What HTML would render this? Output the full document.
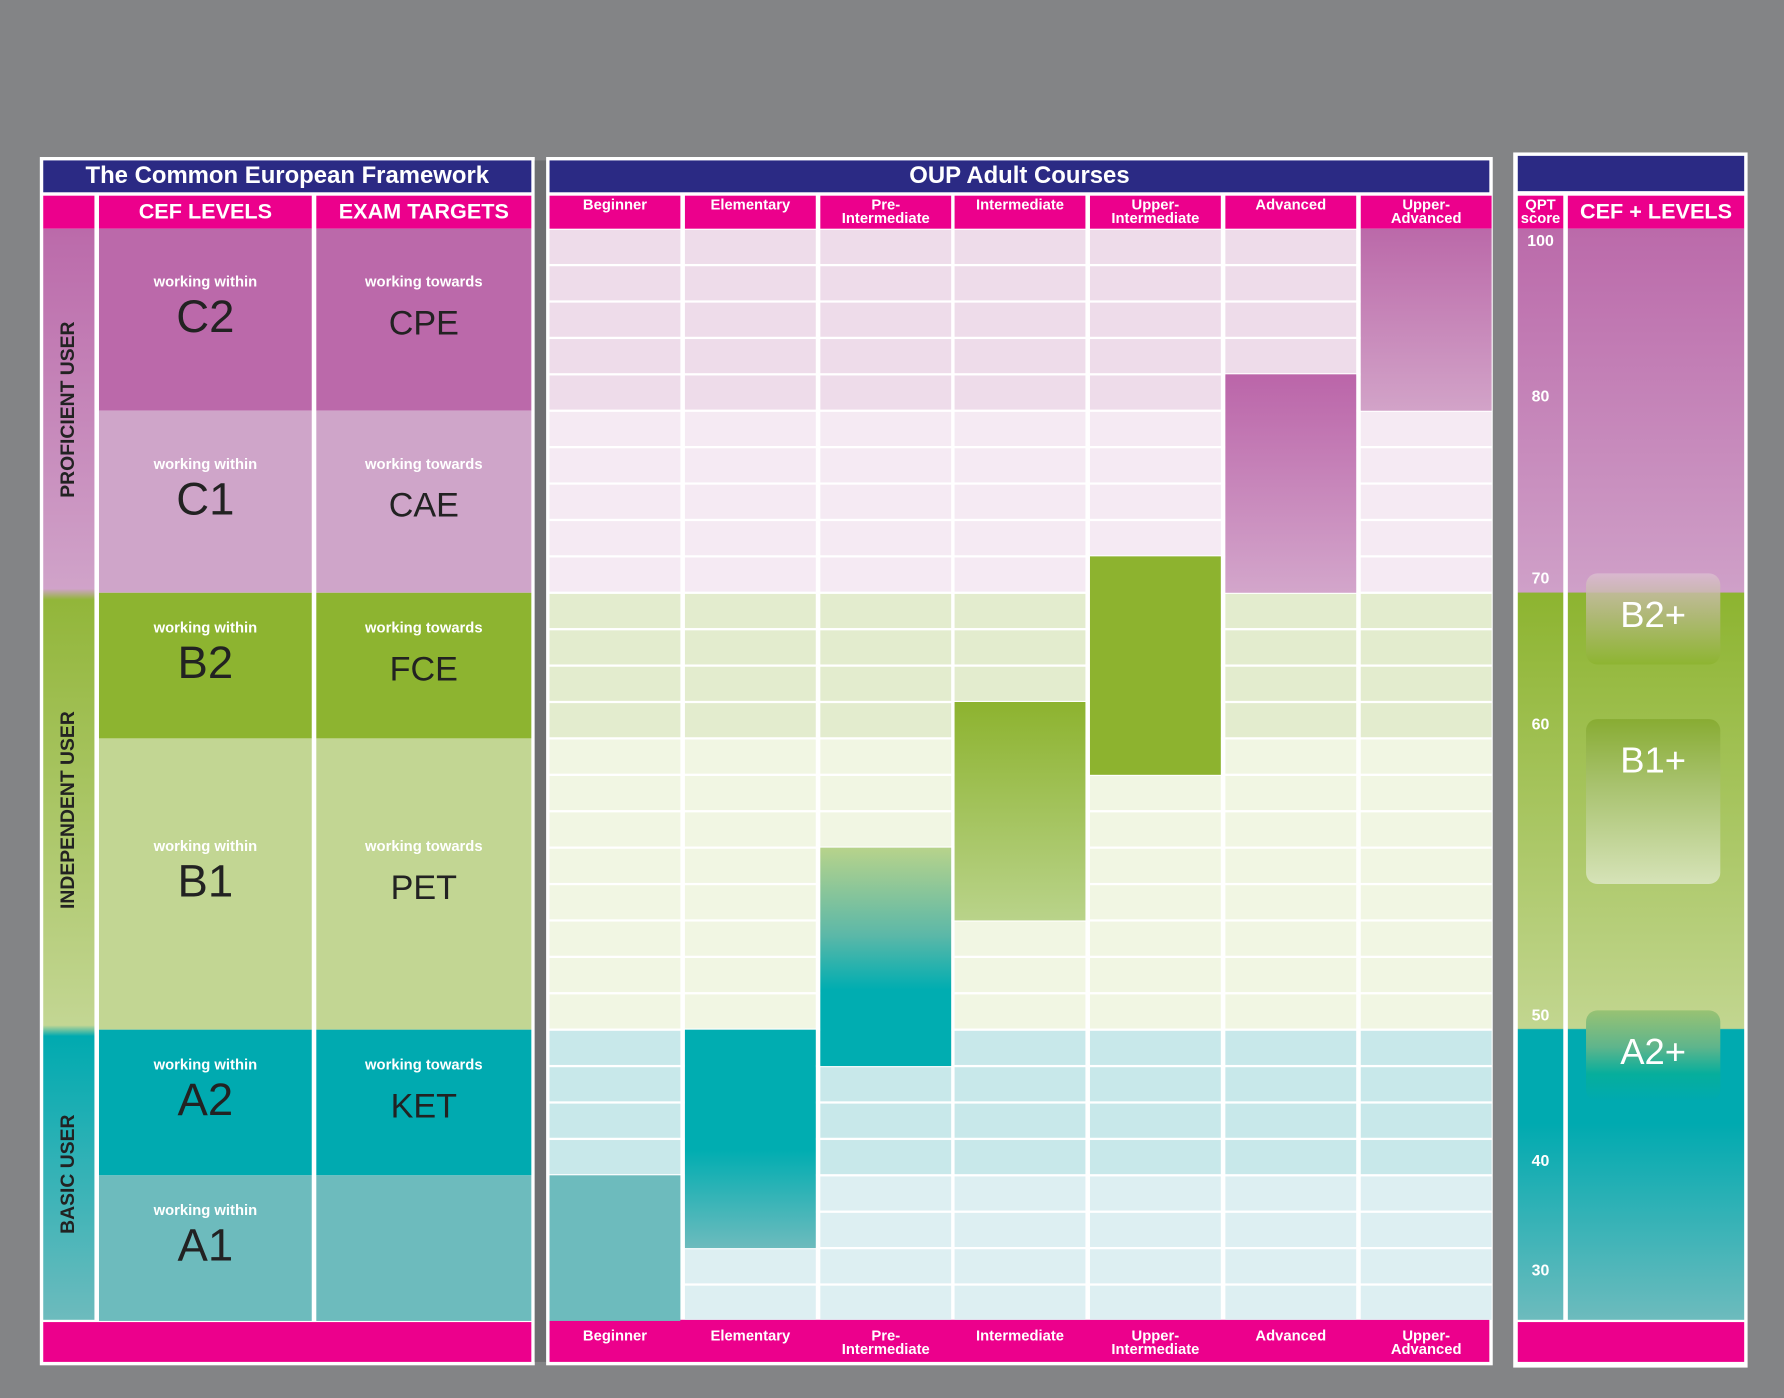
<!DOCTYPE html>
<html><head><meta charset="utf-8">
<style>
html,body{margin:0;padding:0;background:#838486;width:1784px;height:1398px;overflow:hidden}
#stage{position:absolute;left:0;top:0;width:1568px;height:1229px;transform:scale(1.13776);transform-origin:0 0;font-family:"Liberation Sans Narrow","Liberation Sans",sans-serif}
.a{position:absolute;box-sizing:border-box}
.navy{background:#2b2a84;color:#fff;font-weight:bold;text-align:center;font-size:21px;line-height:28px}
.pink{background:#ec008c;color:#fff;font-weight:bold;text-align:center}
.hd{font-size:19px;line-height:30px}
.ch{font-size:13px;line-height:12px;padding-top:2px}
.cell{text-align:center;color:#fff}
.cell .w{font-size:13px;font-weight:bold;line-height:16px}
.cell .big{font-size:40px;color:#222;font-family:"Liberation Sans",sans-serif;line-height:46px}
.cell .mid{font-size:30px;color:#222;font-family:"Liberation Sans",sans-serif;line-height:46px;margin-top:6px}
.vt{position:absolute;transform:rotate(-90deg);transform-origin:center;font-weight:bold;font-size:17px;color:#222;white-space:nowrap;font-family:"Liberation Sans",sans-serif}
.sc{position:absolute;left:1334px;width:40px;text-align:center;color:#fff;font-weight:bold;font-size:14px;font-family:"Liberation Sans",sans-serif}
.badge{position:absolute;left:1394px;width:118px;border-radius:10px;color:#fff;text-align:center;font-size:32px;font-family:"Liberation Sans",sans-serif}
</style></head><body>
<div id="stage">
<div class="a" style="left:35px;top:138px;width:435px;height:1062px;background:#fff"></div>
<div class="a navy" style="left:38px;top:141px;width:429px;height:28px">The Common European Framework</div>
<div class="a pink" style="left:38px;top:172px;width:45px;height:29px"></div>
<div class="a pink hd" style="left:87px;top:172px;width:187px;height:29px">CEF LEVELS</div>
<div class="a pink hd" style="left:278px;top:172px;width:189px;height:29px">EXAM TARGETS</div>
<div class="a" style="left:38px;top:201px;width:45px;height:959px;background:linear-gradient(#bb6aaa 0%,#d0a3c9 33%,#92b63a 34%,#c3d693 73%,#00aab0 74%,#6dbbbd 100%)"></div>
<div class="vt" style="left:-20px;top:350px;width:160px;text-align:center">PROFICIENT USER</div>
<div class="vt" style="left:-30px;top:702px;width:180px;text-align:center">INDEPENDENT USER</div>
<div class="vt" style="left:-10px;top:1022px;width:140px;text-align:center">BASIC USER</div>
<div id="levels"></div>
<div class="a pink" style="left:38px;top:1162px;width:429px;height:35px"></div>
<div class="a" style="left:470px;top:141px;width:10px;height:1056px;background:#6e6f71"></div>
<div class="a" style="left:480px;top:138px;width:832px;height:1062px;background:#fff"></div>
<div class="a navy" style="left:483px;top:141px;width:826px;height:28px">OUP Adult Courses</div>
<div class="a pink" style="left:483px;top:1160px;width:826px;height:37px"></div>
<div id="grid"></div>
<div class="a" style="left:1330px;top:134px;width:206px;height:1068px;background:#fff"></div>
<div class="a navy" style="left:1334px;top:137px;width:199px;height:31px"></div>
<div class="a pink" style="left:1334px;top:172px;width:40px;height:29px;font-size:13px;line-height:12px;padding-top:2px">QPT<br>score</div>
<div class="a pink hd" style="left:1378px;top:172px;width:155px;height:29px">CEF + LEVELS</div>
<div class="a" style="left:1334px;top:201px;width:40px;height:959px;background:linear-gradient(#bb6aaa 0%,#cfa0c8 33.3%,#8db430 33.4%,#c2d690 73.3%,#00aab0 73.4%,#00aab0 82%,#6dbbbd 100%)"></div>
<div class="a" style="left:1378px;top:201px;width:155px;height:959px;background:linear-gradient(#bb6aaa 0%,#cfa0c8 33.3%,#8db430 33.4%,#c2d690 73.3%,#00aab0 73.4%,#00aab0 82%,#6dbbbd 100%)"></div>
<div id="scores"></div>
<div class="badge" style="top:504px;height:80px;line-height:72px;background:linear-gradient(rgba(220,190,210,.8),rgba(141,180,48,.9))">B2+</div>
<div class="badge" style="top:632px;height:145px;line-height:72px;background:linear-gradient(#88ac33,#a8c26e 40%,#d6e3b8)">B1+</div>
<div class="badge" style="top:888px;height:80px;line-height:72px;background:linear-gradient(#98c273,#5fb58c 40%,#06ae9c 70%,#00aab0)">A2+</div>
<div class="a pink" style="left:1334px;top:1162px;width:199px;height:35px"></div>
</div>
<script>
const courses=["Beginner","Elementary","Pre-<br>Intermediate","Intermediate","Upper-<br>Intermediate","Advanced","Upper-<br>Advanced"];
const startRow=[26,22,17,13,9,4,0];
const endRow=[30,28,23,19,15,10,5];
const barFills=["#6dbbbd","linear-gradient(#00adb1 0%,#00adb1 55%,#6dbbbd 100%)","linear-gradient(#b7d38b 0%,#5cb8a8 40%,#00adb1 65%,#00adb1 100%)","linear-gradient(#8db32f,#b9d38a)","#8db32f","linear-gradient(#bb65a9,#d3a6cb)","linear-gradient(#bb69a9,#d2a3c8)"];
const qptScores=["100","80","70","60","50","40","30"];
const qptRows=[0.3,4.6,9.6,13.6,21.6,25.6,28.6];
const levels=["C2","C1","B2","B1","A2","A1"];
const exams=["CPE","CAE","FCE","PET","KET",""];
const levelRows=[0,5,10,14,22,26,30];
const levelColors=["#bb69aa","#cfa5c9","#8db430","#c2d693","#00aab0","#6dbbbd"];
const rowColors=["#eedcea","#f5eaf3","#e3ecce","#f1f6e3","#c8e8ea","#ddeff2"];
const TOP=201,RH=32,COLX=483,COLW=115,GAP=4;
function y(r){return TOP+r*RH;}
function cx(i){return COLX+i*(COLW+GAP)+(i>2?-1:0);}
const g=document.getElementById('grid');
let h='';
function band(r){for(let k=0;k<6;k++){if(r<levelRows[k+1])return k;}return 5;}
for(let i=0;i<7;i++){
  h+=`<div class="a pink ch" style="left:${cx(i)}px;top:172px;width:${COLW}px;height:29px">${courses[i]}</div>`;
  h+=`<div class="a ch" style="left:${cx(i)}px;top:1166px;width:${COLW}px;height:30px;color:#fff;font-weight:bold;text-align:center">${courses[i]}</div>`;
  for(let r=0;r<30;r++){
    h+=`<div class="a" style="left:${cx(i)}px;top:${y(r)+1}px;width:${COLW}px;height:${RH-2}px;background:${rowColors[band(r)]}"></div>`;
  }
}
g.innerHTML=h;
for(let i=0;i<7;i++){
  const b=document.createElement('div');
  b.className='a';
  
  
  b.style.cssText=`left:${cx(i)}px;top:${y(startRow[i])}px;width:${COLW}px;height:${y(endRow[i])-y(startRow[i])}px;background:${barFills[i]}`;
  g.appendChild(b);
}
const L=document.getElementById('levels');
let lh='';
for(let k=0;k<6;k++){
  const t=y(levelRows[k]),hh=y(levelRows[k+1])-t,pad=Math.round((hh-66)/2)-8;
  lh+=`<div class="a cell" style="left:87px;top:${t}px;width:187px;height:${hh}px;padding-top:${pad}px;background:${levelColors[k]}"><div class="w">working within</div><div class="big">${levels[k]}</div></div>`;
  lh+=`<div class="a cell" style="left:278px;top:${t}px;width:189px;height:${hh}px;padding-top:${pad}px;background:${levelColors[k]}">${exams[k]?`<div class="w">working towards</div><div class="mid">${exams[k]}</div>`:''}</div>`;
}
L.innerHTML=lh;
const S=document.getElementById('scores');
for(let i=0;i<qptScores.length;i++){
  const d=document.createElement('div');
  d.className='sc';
  
  
  d.style.top=(y(qptRows[i])-8)+'px';
  d.textContent=qptScores[i];
  S.appendChild(d);
}
</script>
</body></html>
